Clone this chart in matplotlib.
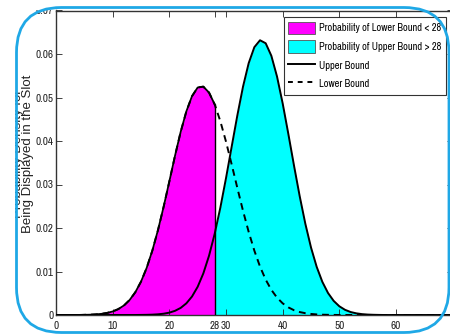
import matplotlib
matplotlib.use("Agg")
import matplotlib.pyplot as plt
from matplotlib.patches import FancyBboxPatch, Patch
from matplotlib.lines import Line2D
from matplotlib.transforms import Bbox
from matplotlib import font_manager

# ---- data ----
x_vals = list(range(0, 71))
lower_bound = [0, 0, 0, 0, 0, 0.00004, 0.00007, 0.00014, 0.00026, 0.00047,
               0.00081, 0.00136, 0.0022, 0.00346, 0.00524, 0.00766, 0.01083, 0.0148, 0.01954, 0.02492,
               0.0307, 0.0366, 0.0421, 0.0468, 0.0503, 0.0523, 0.0525, 0.05114, 0.04842, 0.04455,
               0.03984, 0.0346, 0.0292, 0.02395, 0.0191, 0.01479, 0.01113, 0.00813, 0.00578, 0.00399,
               0.00268, 0.00175, 0.0011, 0.00068, 0.00041, 0.00024, 0.00013, 0.00007, 0.00004, 0.00002,
               0, 0, 0, 0, 0, 0, 0, 0, 0, 0,
               0, 0, 0, 0, 0, 0, 0, 0, 0, 0, 0]
upper_bound = [0, 0, 0, 0, 0, 0, 0, 0, 0, 0,
               0, 0, 0, 0, 0, 0.00002, 0.00004, 0.00008, 0.00016, 0.0003,
               0.00054, 0.00096, 0.00163, 0.00268, 0.00425, 0.00649, 0.00957, 0.01361, 0.01866, 0.02468,
               0.03147, 0.0387, 0.04589, 0.05249, 0.05789, 0.06157, 0.06316, 0.06247, 0.05959, 0.05482,
               0.04863, 0.04161, 0.03433, 0.02732, 0.02096, 0.01551, 0.01107, 0.00762, 0.00506, 0.00324,
               0.002, 0.00119, 0.00068, 0.00038, 0.0002, 0.0001, 0.00005, 0.00002, 0, 0,
               0, 0, 0, 0, 0, 0, 0, 0, 0, 0, 0]
threshold = 28
x_ticks = [0, 10, 20, 28, 30, 40, 50, 60, 70]
x_tick_labels = ["0", "10", "20", "28", "30", "40", "50", "60", ""]
y_ticks = [0, 0.01, 0.02, 0.03, 0.04, 0.05, 0.06, 0.07]
y_tick_labels = ["0", "0.01", "0.02", "0.03", "0.04", "0.05", "0.06", "0.07"]
legend_labels = ["Probability of Lower Bound < 28", "Probability of Upper Bound > 28",
                 "Upper Bound", "Lower Bound"]
ylabel_lines = ["Probability Density for", "Being Displayed in the Slot"]

names = {f.name for f in font_manager.fontManager.ttflist}
candidates = ["Liberation Sans Narrow", "Arial Narrow", "Archivo Narrow", "PT Sans Narrow",
              "Roboto Condensed", "Open Sans Condensed", "Fira Sans Condensed",
              "IBM Plex Sans Condensed", "Encode Sans Condensed", "Liberation Sans"]
narrow = next(c for c in candidates if c in names)
plt.rcParams['font.family'] = [narrow, 'DejaVu Sans']

fig = plt.figure(figsize=(4.5, 3.35), dpi=100)
ax = fig.add_axes([56/450, 20/335, 396.7/450, 304.5/335])

lx = [x for x in x_vals if x <= threshold]
ly = lower_bound[:len(lx)]
ux = [x for x in x_vals if x >= threshold]
uy = upper_bound[x_vals.index(threshold):]

ax.fill_between(lx, 0, ly, color="#ff00ff", linewidth=0, zorder=1)
ax.fill_between(ux, 0, uy, color="#00ffff", linewidth=0, zorder=1)
ax.plot(lx, ly, color="black", lw=1.3, zorder=3)
ax.vlines(threshold, 0, lower_bound[x_vals.index(threshold)], color="black", lw=1.0, zorder=3)
ax.plot(x_vals, upper_bound, color="black", lw=1.4, zorder=4)
ax.plot(x_vals, lower_bound, color="black", lw=1.4, ls=(0, (3.5, 2.5)), zorder=4)

ax.set_xlim(0, 70)
ax.set_ylim(0, 0.07)
ax.set_xticks(x_ticks)
ax.set_xticklabels(x_tick_labels, fontsize=8)
ax.set_yticks(y_ticks)
ax.set_yticklabels(y_tick_labels, fontsize=8)
ax.tick_params(direction="in", length=4, width=0.6, top=True, right=True, pad=2, colors="#222222")
ax.tick_params(axis="x", pad=4)
for s in ax.spines.values():
    s.set_linewidth(1.0)
    s.set_color("#333333")
top_lab = ax.get_yticklabels()[-1]
top_lab.set_clip_box(Bbox.from_extents(0, 0, 450, 335 - 10))
top_lab.set_clip_on(True)

handles = [Patch(facecolor="#ff00ff", edgecolor="#555555", lw=0.6),
           Patch(facecolor="#00ffff", edgecolor="#555555", lw=0.6),
           Line2D([], [], color="black", lw=1.4),
           Line2D([], [], color="black", lw=1.4, ls=(0, (2.5, 2.5)))]
leg = ax.legend(handles, legend_labels, loc="upper right",
                bbox_to_anchor=(446/450, 1 - 17/335), bbox_transform=fig.transFigure,
                fontsize=7.5, frameon=True, fancybox=False, edgecolor="black",
                handlelength=2.6, handleheight=1.45, borderpad=0.45, labelspacing=0.6,
                handletextpad=0.35, borderaxespad=0)
leg.get_frame().set_linewidth(0.8)

ylab = fig.text(23/450, 1 - 154/335, "\n".join(ylabel_lines), rotation=90, ha="center",
                va="center", multialignment="center", linespacing=0.85,
                fontsize=9.5, family=["Liberation Sans", "DejaVu Sans"], color="#222222")
ylab.set_clip_box(Bbox.from_extents(15, 0, 450, 335))
ylab.set_clip_on(True)

frame = FancyBboxPatch((16.5/450, 2.5/335), 432.5/450, 325/335, transform=fig.transFigure,
                       boxstyle="round,pad=0,rounding_size=0.1", facecolor="none",
                       edgecolor="#1fa8e6", lw=2.0, mutation_aspect=450/335, zorder=10)
fig.patches.append(frame)

fig.savefig("out.png", dpi=100)
